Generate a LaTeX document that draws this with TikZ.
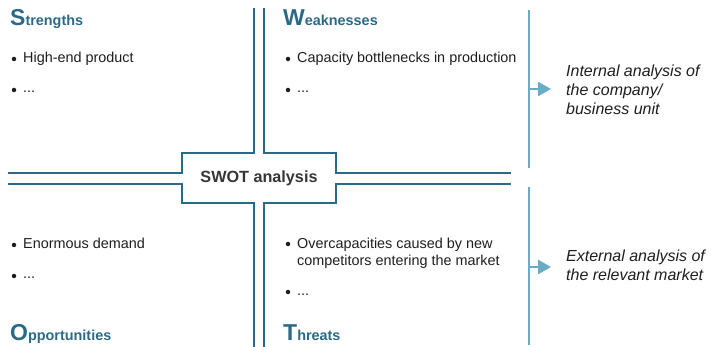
\documentclass[tikz,border=0pt]{standalone}
\usepackage{fontspec}
\setmainfont{Liberation Sans}
\usetikzlibrary{arrows.meta}
\definecolor{swotteal}{HTML}{2B6A87}
\definecolor{lightblue}{HTML}{6AABC6}
\definecolor{txt}{HTML}{1E1E1E}
\tikzset{
  divider/.style={draw=swotteal, line width=2.8pt},
  sideline/.style={draw=lightblue, line width=2.6pt},
  sidearrow/.style={draw=lightblue, line width=2.6pt, -{Triangle[length=13pt,width=14pt]}},
  title/.style={anchor=base west, inner sep=0pt, text=swotteal, font=\bfseries\fontsize{14.4}{18}\selectfont},
  item/.style={anchor=base west, inner sep=0pt, text=txt, font=\fontsize{14.4}{17.5}\selectfont, align=left},
  dot/.style={circle, fill=txt, inner sep=0pt, minimum size=4.5pt},
  note/.style={anchor=base west, inner sep=0pt, text=txt, font=\itshape\fontsize{16}{19}\selectfont, align=left},
}
\newcommand{\swotinitial}[1]{{\fontsize{23}{24}\selectfont #1}}
\begin{document}
\begin{tikzpicture}[x=1pt,y=-1pt]
\useasboundingbox (0,0) rectangle (712,347);
% cross
\draw[divider] (8,173) -- (182,173) -- (182,153) -- (254,153) -- (254,8);
\draw[divider] (264,8) -- (264,153) -- (336,153) -- (336,173) -- (511,173);
\draw[divider] (8,184) -- (182,184) -- (182,203) -- (254,203) -- (254,347);
\draw[divider] (264,347) -- (264,203) -- (336,203) -- (336,184) -- (511,184);
\node[inner sep=0pt, text=txt!90!white, font=\bfseries\fontsize{16.2}{18}\selectfont] (swot) at (259,178.5) {SWOT analysis};
% titles
\node[title] (s) at (10,26) {\swotinitial{S}trengths};
\node[title] (w) at (283,26) {\swotinitial{W}eaknesses};
\node[title] (o) at (10,340) {\swotinitial{O}pportunities};
\node[title] (t) at (283,340) {\swotinitial{T}hreats};
% items
\node[dot] (d1) at (14,59) {};
\node[item] (i1) at (23,63) {High-end product};
\node[dot] (d2) at (14,90) {};
\node[item] (i2) at (23,93) {...};
\node[dot] (d3) at (288,59) {};
\node[item] (i3) at (297,63) {Capacity bottlenecks in production};
\node[dot] (d4) at (288,90) {};
\node[item] (i4) at (297,93) {...};
\node[dot] (d5) at (14,245) {};
\node[item] (i5) at (23,249) {Enormous demand};
\node[dot] (d6) at (14,276) {};
\node[item] (i6) at (23,279) {...};
\node[dot] (d7) at (288,244) {};
\node[item] (i7) at (297,266) {Overcapacities caused by new\\competitors entering the market};
\node[dot] (d8) at (288,292) {};
\node[item] (i8) at (297,295) {...};
% side lines and arrows
\coordinate (u1) at (529,10);
\coordinate (u2) at (529,168);
\coordinate (l1) at (529,187);
\coordinate (l2) at (529,345);
\draw[sideline] (u1) -- (u2);
\draw[sideline] (l1) -- (l2);
\coordinate (a1) at (528,89);
\coordinate (b1) at (551,89);
\coordinate (a2) at (528,267);
\coordinate (b2) at (551,267);
\draw[sidearrow] (a1) -- (b1);
\draw[sidearrow] (a2) -- (b2);
\node[note] (n1) at (566,115) {Internal analysis of\\the company/\\business unit};
\node[note] (n2) at (566,281) {External analysis of\\the relevant market};
\end{tikzpicture}
\end{document}
